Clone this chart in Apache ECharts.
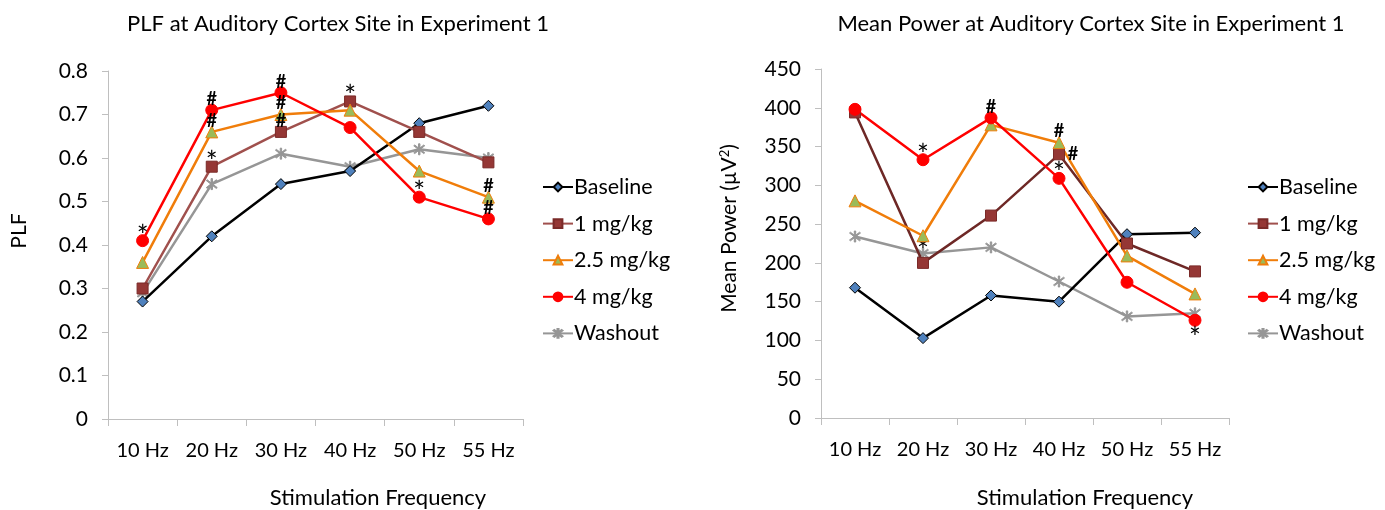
<!DOCTYPE html>
<html>
<head>
<meta charset="utf-8">
<script src="https://cdn.jsdelivr.net/npm/echarts@6/dist/echarts.min.js"></script>
<style>
  html, body { margin: 0; padding: 0; background: #fff; }
  #main { width: 1385px; height: 510px; }
</style>
</head>
<body>
<div id="main"></div>
<script>
// categories
var freqs = ['10 Hz', '20 Hz', '30 Hz', '40 Hz', '50 Hz', '55 Hz'];
var groupNames = ['Baseline', '1 mg/kg', '2.5 mg/kg', '4 mg/kg', 'Washout'];

// PLF values (left chart)
var plfBaseline = [0.27, 0.42, 0.54, 0.57, 0.68, 0.72];
var plf1mg      = [0.30, 0.58, 0.66, 0.73, 0.66, 0.59];
var plf25mg     = [0.36, 0.66, 0.70, 0.71, 0.57, 0.51];
var plf4mg      = [0.41, 0.71, 0.75, 0.67, 0.51, 0.46];
var plfWashout  = [0.29, 0.54, 0.61, 0.58, 0.62, 0.60];

// significance marks on PLF
var plfMarks1mg  = ['', '*', '#', '*', '', ''];
var plfMarks25mg = ['', '#', '#', '', '', '#'];
var plfMarks4mg  = ['*', '#', '#', '', '*', '#'];

// mean power values (right chart)
var powBaseline = [168, 103, 158, 150, 237, 239];
var pow1mg      = [394, 200, 261, 340, 225, 189];
var pow25mg     = [280, 235, 378, 355, 209, 160];
var pow4mg      = [398, 333, 387, 309, 175, 126];
var powWashout  = [234, 212, 220, 176, 131, 135];

// significance marks on mean power
var powMarks1mg     = ['', '', '', '#', '', ''];
var powMarks25mg    = ['', '', '', '#', '', ''];
var powMarks4mg     = ['', '*', '#', '*', '', '*'];
var powMarksWashout = ['', '*', '', '', '', ''];

var FONT = 'Lato';
var star = 'path://M9,0L11,0L11,20L9,20Z M2.2,3.6L3.6,2.2L17.8,16.4L16.4,17.8Z M16.4,2.2L17.8,3.6L3.6,17.8L2.2,16.4Z';

var styles = [
  { line: '#000000', fill: '#4f81bd', border: '#000000', symbol: 'diamond', size: 11 },
  { line: '#a0504d', fill: '#953735', border: '#7a2a28', symbol: 'rect', size: 11 },
  { line: '#f07d0a', fill: '#9bbb59', border: '#f07d0a', symbol: 'triangle', size: 12 },
  { line: '#ff0000', fill: '#ff0000', border: '#ff0000', symbol: 'circle', size: 12 },
  { line: '#969696', fill: '#969696', border: '#969696', symbol: star, size: 11 }
];

// offset of a mark from its point: above by default
function markOffset(chart, name, i, m) {
  var lift = m == '*' ? 7 : 0;   // the asterisk glyph sits high in its box
  if (chart == 1 && name == '1 mg/kg' && i == 3) return [14, 0];
  if (chart == 1 && name == '4 mg/kg' && i == 5) return [0, 12 + lift];
  if (chart == 1 && name == 'Washout' && i == 1) return [0, -9 + lift];
  return [0, -11 + lift];
}

function makeSeries(chart, idx, values, marks, lineColor) {
  var st = styles[idx];
  var name = groupNames[idx];
  var data = [];
  for (var i = 0; i < values.length; i++) {
    var m = marks ? marks[i] : '';
    if (m) {
      data.push({
        value: values[i],
        label: {
          show: true,
          formatter: m,
          position: 'inside',
          offset: markOffset(chart, name, i, m),
          color: '#000',
          fontFamily: FONT,
          fontSize: m == '*' ? 28 : 18,
          fontWeight: m == '*' ? 'normal' : 'bold'
        }
      });
    } else {
      data.push(values[i]);
    }
  }
  return {
    name: name,
    type: 'line',
    xAxisIndex: chart,
    yAxisIndex: chart,
    data: data,
    symbol: st.symbol,
    symbolSize: st.size,
    lineStyle: { color: lineColor || st.line, width: 2.5 },
    itemStyle: { color: st.fill, borderColor: st.border, borderWidth: 1 },
    z: idx == 4 ? 1 : 2,
    animation: false
  };
}

function xAxisOf(gridIdx) {
  return {
    type: 'category',
    gridIndex: gridIdx,
    data: freqs,
    boundaryGap: true,
    axisLine: { lineStyle: { color: '#bfbfbf', width: 1 } },
    axisTick: { show: true, interval: 0, length: 7, lineStyle: { color: '#bfbfbf' } },
    axisLabel: { interval: 0, color: '#000', fontFamily: FONT, fontSize: 20, margin: 22 },
    splitLine: { show: false }
  };
}

function yAxisOf(gridIdx, max, interval, name, gap, shift) {
  return {
    type: 'value',
    gridIndex: gridIdx,
    min: 0,
    max: max,
    interval: interval,
    name: name,
    nameLocation: 'middle',
    nameRotate: 90,
    nameGap: gap,
    nameTextStyle: {
      color: '#000', fontFamily: FONT, fontSize: 21,
      padding: [0, 0, 0, shift],
      rich: { sup: { fontSize: 13, verticalAlign: 'top', padding: [0, 0, 9, 0], fontFamily: FONT, color: '#000' } }
    },
    axisLine: { show: true, lineStyle: { color: '#bfbfbf', width: 1 } },
    axisTick: { show: true, length: 6, lineStyle: { color: '#bfbfbf' } },
    axisLabel: { color: '#000', fontFamily: FONT, fontSize: 21, margin: 20 },
    splitLine: { show: false }
  };
}

var legendBase = {
  orient: 'vertical',
  padding: 0,
  itemWidth: 30,
  itemHeight: 11,
  itemGap: 14.6,
  textStyle: { color: '#000', fontFamily: FONT, fontSize: 21.5, lineHeight: 22, padding: [0, 0, 0, -4] },
  data: groupNames,
  selectedMode: false
};

var titleFont = { fontFamily: FONT, fontSize: 22, fontWeight: 'normal', color: '#000' };

var myChart = echarts.init(document.getElementById('main'));
myChart.setOption({
  animation: false,
  title: [
    { text: 'PLF at Auditory Cortex Site in Experiment 1', left: 333, top: 8, textAlign: 'center', textStyle: titleFont },
    { text: 'Mean Power at Auditory Cortex Site in Experiment 1', left: 1086, top: 8, textAlign: 'center', textStyle: titleFont },
    { text: 'Stimulation Frequency', left: 373, top: 482, textAlign: 'center', textStyle: titleFont },
    { text: 'Stimulation Frequency', left: 1080, top: 482, textAlign: 'center', textStyle: titleFont }
  ],
  legend: [
    Object.assign({}, legendBase, { left: 542, top: 176 }),
    Object.assign({}, legendBase, { left: 1247, top: 176 })
  ],
  grid: [
    { left: 108, top: 71, width: 415, height: 348 },
    { left: 821, top: 69, width: 408, height: 349 }
  ],
  xAxis: [xAxisOf(0), xAxisOf(1)],
  yAxis: [
    yAxisOf(0, 0.8, 0.1, 'PLF', 78, 28),
    yAxisOf(1, 450, 50, 'Mean Power (µV{sup|2})', 81, 30)
  ],
  series: [
    makeSeries(0, 0, plfBaseline, null),
    makeSeries(0, 1, plf1mg, plfMarks1mg),
    makeSeries(0, 2, plf25mg, plfMarks25mg),
    makeSeries(0, 3, plf4mg, plfMarks4mg),
    makeSeries(0, 4, plfWashout, null),
    makeSeries(1, 0, powBaseline, null),
    makeSeries(1, 1, pow1mg, powMarks1mg, '#6e2826'),
    makeSeries(1, 2, pow25mg, powMarks25mg),
    makeSeries(1, 3, pow4mg, powMarks4mg),
    makeSeries(1, 4, powWashout, powMarksWashout)
  ]
});
</script>
</body>
</html>
